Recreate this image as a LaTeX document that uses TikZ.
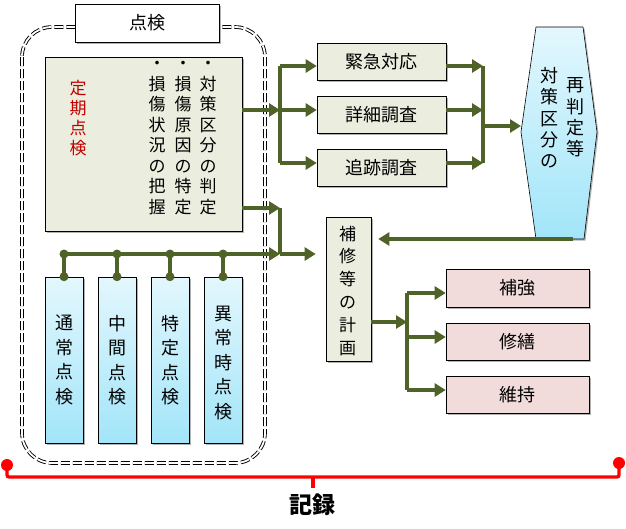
\documentclass[tikz,border=0pt]{standalone}
\usepackage{fontspec}
\newfontfamily\jp{Noto Sans CJK JP}
\usetikzlibrary{arrows.meta,shadows}
\definecolor{olv}{HTML}{4F6228}
\definecolor{beige}{HTML}{EBEEDF}
\definecolor{pinkbox}{HTML}{F2DCDB}
\definecolor{cyT}{HTML}{E3F7FD}
\definecolor{cyB}{HTML}{A2E5F9}
\definecolor{redtxt}{HTML}{C00000}
\definecolor{recred}{HTML}{FF0000}
\begin{document}
\begin{tikzpicture}[x=1pt,y=-1pt,
  every node/.style={font=\jp},
  shad/.style={drop shadow={shadow xshift=1.5pt,shadow yshift=-1.5pt,opacity=0.3,fill=black}},
  box/.style={draw=black, line width=0.6pt, fill=beige, shad, inner sep=0pt, font=\jp\fontsize{18}{20}\selectfont},
  pbox/.style={box, fill=pinkbox},
  cbox/.style={draw=black, line width=0.6pt, top color=cyT, bottom color=cyB, shad, inner sep=0pt},
  vt/.style={align=center, inner sep=0pt},
  conn/.style={draw=olv, line width=3.5pt},
  arr/.style={conn, -{Triangle[length=11pt,width=13pt]}},
  dotc/.style={fill=olv},
  rec/.style={draw=recred, line width=3.3pt, rounded corners=2pt},
]
\useasboundingbox (0,0) rectangle (626,528);

% container
\draw[dashed, dash pattern=on 9pt off 3pt, double=white, double distance=1.8pt, line width=0.9pt, rounded corners=30pt] (22,27) rectangle (265,463);
\node[box, fill=white, minimum width=144pt, minimum height=38pt] (tenken) at (147,23) {点検};

% periodic inspection box
\node[box, minimum width=197pt, minimum height=174pt] (teiki) at (143.5,144) {};
\node[vt, text=redtxt, font=\jp\fontsize{17}{20}\selectfont] (teikiT) at (78,118.3) {定\\期\\点\\検};
\node[vt, font=\jp\fontsize{17}{20.5}\selectfont] (col1) at (157,138) {・\\損\\傷\\状\\況\\の\\把\\握};
\node[vt, font=\jp\fontsize{17}{20.5}\selectfont] (col2) at (183,138) {・\\損\\傷\\原\\因\\の\\特\\定};
\node[vt, font=\jp\fontsize{17}{20.5}\selectfont] (col3) at (208,138) {・\\対\\策\\区\\分\\の\\判\\定};

% blue inspection boxes
\node[cbox, minimum width=38pt, minimum height=166pt] (b1) at (64,360) {};
\node[cbox, minimum width=38pt, minimum height=166pt] (b2) at (117,360) {};
\node[cbox, minimum width=38pt, minimum height=166pt] (b3) at (170,360) {};
\node[cbox, minimum width=38pt, minimum height=166pt] (b4) at (223,360) {};
\node[vt, font=\jp\fontsize{18}{24.5}\selectfont] (b1t) at (64,360) {通\\常\\点\\検};
\node[vt, font=\jp\fontsize{18}{24.5}\selectfont] (b2t) at (117,360) {中\\間\\点\\検};
\node[vt, font=\jp\fontsize{18}{24.5}\selectfont] (b3t) at (170,360) {特\\定\\点\\検};
\node[vt, font=\jp\fontsize{18}{24.5}\selectfont] (b4t) at (223,363) {異\\常\\時\\点\\検};

% middle boxes
\node[box, minimum width=129pt, minimum height=37pt] (kinkyu) at (381.5,61.5) {緊急対応};
\node[box, minimum width=129pt, minimum height=37pt] (shosai) at (381.5,114.5) {詳細調査};
\node[box, minimum width=129pt, minimum height=37pt] (tsuiseki) at (381.5,167.5) {追跡調査};

% hexagon
\coordinate (h1) at (536,27);
\coordinate (h2) at (583,27);
\coordinate (h3) at (597,132);
\coordinate (h4) at (584,239);
\coordinate (h5) at (536,239);
\coordinate (h6) at (521,132);
\path[draw=black, line width=0.6pt, top color=cyT, bottom color=cyB, shad] (h1)--(h2)--(h3)--(h4)--(h5)--(h6)--cycle;
\node[vt, font=\jp\fontsize{18}{21.3}\selectfont] (hexR) at (575,117.5) {再\\判\\定\\等};
\node[vt, font=\jp\fontsize{18}{21.3}\selectfont] (hexL) at (549,118) {対\\策\\区\\分\\の};
\coordinate (hexin) at (521,126);
\coordinate (hexout) at (573,239);

% repair plan
\node[box, minimum width=45pt, minimum height=144pt] (hoshu) at (348.5,289) {};
\node[vt, font=\jp\fontsize{17}{22.8}\selectfont] (hoshuT) at (347.5,290.7) {補\\修\\等\\の\\計\\画};

% pink boxes
\node[pbox, minimum width=143pt, minimum height=38pt] (hokyo) at (517.5,288) {補強};
\node[pbox, minimum width=143pt, minimum height=37pt] (shuzen) at (517.5,341.5) {修繕};
\node[pbox, minimum width=143pt, minimum height=37pt] (iji) at (517.5,394.5) {維持};

% junctions
\coordinate (jA) at (280,110);
\coordinate (jAt) at (280,66);
\coordinate (jAb) at (280,163);
\coordinate (jB) at (483,126);
\coordinate (jBt) at (483,66);
\coordinate (jBm) at (483,110);
\coordinate (jBb) at (483,163);
\coordinate (jC) at (280,208);
\coordinate (jD) at (280,254);
\coordinate (bus0) at (68,254);
\coordinate (jE) at (407,322);
\coordinate (jEt) at (407,293);
\coordinate (jEm) at (407,337);
\coordinate (jEb) at (407,390);

% upper connectors
\draw[conn] (jAt) -- (jAb);
\draw[arr] (teiki.east |- jA) -- (jA);
\draw[arr] (jAt) -- (kinkyu.west |- jAt);
\draw[arr] (jA) -- (shosai.west |- jA);
\draw[arr] (jAb) -- (tsuiseki.west |- jAb);
\draw[arr] (kinkyu.east |- jBt) -- (jBt);
\draw[arr] (shosai.east |- jBm) -- (jBm);
\draw[arr] (tsuiseki.east |- jBb) -- (jBb);
\draw[conn] (jBt) -- (jBb);
\draw[arr] (jB) -- (hexin);

% lower connectors
\draw[arr] (teiki.east |- jC) -- (jC);
\draw[conn] (jC) -- (jD);
\draw[arr, shorten >=10pt] (jD) -- (hoshu.west |- jD);
\draw[arr] (bus0) -- (jD);
\foreach \b in {b1,b2,b3,b4}{
  \draw[conn] (\b.north) -- (\b.north |- bus0);
  \fill[dotc] (\b.north) circle (4.5pt);
  \fill[dotc] (\b.north |- bus0) circle (4.5pt);
}
\draw[arr, shorten >=7pt] (hexout) -- (hoshu.east |- hexout);
\draw[arr] (hoshu.east |- jE) -- (jE);
\draw[conn] (jEt) -- (jEb);
\draw[arr] (jEt) -- (hokyo.west |- jEt);
\draw[arr] (jEm) -- (shuzen.west |- jEm);
\draw[arr] (jEb) -- (iji.west |- jEb);

% record bracket
\coordinate (rL) at (7,465);
\coordinate (rR) at (619,463);
\coordinate (rC) at (313,477);
\node[font=\jp\fontsize{23}{26}\selectfont\bfseries, inner sep=0pt] (kiroku) at (312.5,505) {記録};
\draw[rec] (rL) |- (rC) -| (rR);
\draw[rec] (rC) -- ++(0,11);
\fill[recred] (rL) circle (6pt);
\fill[recred] (rR) circle (6pt);
\end{tikzpicture}
\end{document}
